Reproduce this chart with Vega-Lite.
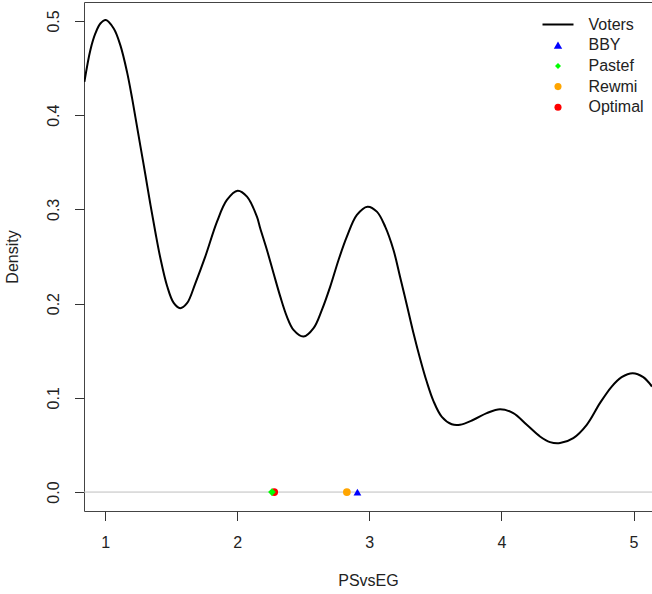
{
  "$schema": "https://vega.github.io/schema/vega-lite/v6.json",
  "width": 568,
  "height": 509,
  "autosize": {"type": "none"},
  "padding": {"left": 84, "top": 2, "right": 0, "bottom": 83},
  "background": "white",
  "config": {
    "view": {"stroke": "#444444", "strokeWidth": 1},
    "font": "Liberation Sans",
    "axis": {
      "grid": false,
      "domain": false,
      "tickColor": "#333333",
      "tickSize": 9.5,
      "labelFontSize": 16,
      "labelColor": "#222222",
      "titleFontSize": 16,
      "titleFontWeight": "normal",
      "titleColor": "#222222"
    },
    "legend": {
      "title": null,
      "orient": "none",
      "legendX": 451,
      "legendY": 14.5,
      "padding": 0,
      "symbolSize": 64,
      "symbolOffset": 15,
      "labelOffset": 22.5,
      "labelFontSize": 16,
      "labelColor": "#222222",
      "rowPadding": 4.7
    }
  },
  "datasets": {
    "density": [
      {"x": 0.843, "density": 0.4354, "series": "Voters"},
      {"x": 0.888, "density": 0.469, "series": "Voters"},
      {"x": 0.926, "density": 0.4867, "series": "Voters"},
      {"x": 0.964, "density": 0.4973, "series": "Voters"},
      {"x": 1.005, "density": 0.501, "series": "Voters"},
      {"x": 1.065, "density": 0.492, "series": "Voters"},
      {"x": 1.115, "density": 0.4743, "series": "Voters"},
      {"x": 1.166, "density": 0.4457, "series": "Voters"},
      {"x": 1.204, "density": 0.4181, "series": "Voters"},
      {"x": 1.229, "density": 0.398, "series": "Voters"},
      {"x": 1.267, "density": 0.3672, "series": "Voters"},
      {"x": 1.305, "density": 0.3365, "series": "Voters"},
      {"x": 1.342, "density": 0.3057, "series": "Voters"},
      {"x": 1.38, "density": 0.276, "series": "Voters"},
      {"x": 1.418, "density": 0.2484, "series": "Voters"},
      {"x": 1.469, "density": 0.2187, "series": "Voters"},
      {"x": 1.519, "density": 0.2007, "series": "Voters"},
      {"x": 1.568, "density": 0.1951, "series": "Voters"},
      {"x": 1.62, "density": 0.2004, "series": "Voters"},
      {"x": 1.683, "density": 0.2216, "series": "Voters"},
      {"x": 1.758, "density": 0.2498, "series": "Voters"},
      {"x": 1.847, "density": 0.287, "series": "Voters"},
      {"x": 1.922, "density": 0.31, "series": "Voters"},
      {"x": 2.003, "density": 0.3198, "series": "Voters"},
      {"x": 2.074, "density": 0.3135, "series": "Voters"},
      {"x": 2.149, "density": 0.2923, "series": "Voters"},
      {"x": 2.174, "density": 0.28, "series": "Voters"},
      {"x": 2.225, "density": 0.2569, "series": "Voters"},
      {"x": 2.275, "density": 0.2322, "series": "Voters"},
      {"x": 2.326, "density": 0.2074, "series": "Voters"},
      {"x": 2.376, "density": 0.1862, "series": "Voters"},
      {"x": 2.426, "density": 0.1721, "series": "Voters"},
      {"x": 2.502, "density": 0.165, "series": "Voters"},
      {"x": 2.578, "density": 0.1739, "series": "Voters"},
      {"x": 2.641, "density": 0.1933, "series": "Voters"},
      {"x": 2.704, "density": 0.218, "series": "Voters"},
      {"x": 2.767, "density": 0.2463, "series": "Voters"},
      {"x": 2.83, "density": 0.271, "series": "Voters"},
      {"x": 2.906, "density": 0.2941, "series": "Voters"},
      {"x": 2.986, "density": 0.3029, "series": "Voters"},
      {"x": 3.057, "density": 0.2976, "series": "Voters"},
      {"x": 3.12, "density": 0.2817, "series": "Voters"},
      {"x": 3.183, "density": 0.2569, "series": "Voters"},
      {"x": 3.233, "density": 0.2283, "series": "Voters"},
      {"x": 3.284, "density": 0.1986, "series": "Voters"},
      {"x": 3.334, "density": 0.1689, "series": "Voters"},
      {"x": 3.385, "density": 0.1413, "series": "Voters"},
      {"x": 3.435, "density": 0.117, "series": "Voters"},
      {"x": 3.485, "density": 0.0968, "series": "Voters"},
      {"x": 3.549, "density": 0.0798, "series": "Voters"},
      {"x": 3.624, "density": 0.0719, "series": "Voters"},
      {"x": 3.687, "density": 0.0714, "series": "Voters"},
      {"x": 3.788, "density": 0.0767, "series": "Voters"},
      {"x": 3.889, "density": 0.0838, "series": "Voters"},
      {"x": 3.99, "density": 0.088, "series": "Voters"},
      {"x": 4.09, "density": 0.0838, "series": "Voters"},
      {"x": 4.192, "density": 0.0714, "series": "Voters"},
      {"x": 4.292, "density": 0.059, "series": "Voters"},
      {"x": 4.368, "density": 0.053, "series": "Voters"},
      {"x": 4.444, "density": 0.052, "series": "Voters"},
      {"x": 4.544, "density": 0.0573, "series": "Voters"},
      {"x": 4.646, "density": 0.0714, "series": "Voters"},
      {"x": 4.746, "density": 0.0944, "series": "Voters"},
      {"x": 4.835, "density": 0.112, "series": "Voters"},
      {"x": 4.91, "density": 0.122, "series": "Voters"},
      {"x": 4.994, "density": 0.1262, "series": "Voters"},
      {"x": 5.074, "density": 0.122, "series": "Voters"},
      {"x": 5.14, "density": 0.112, "series": "Voters"}
    ],
    "parties": [
      {"party": "Optimal", "position": 2.28, "y": 0},
      {"party": "Rewmi", "position": 2.83, "y": 0},
      {"party": "BBY", "position": 2.91, "y": 0},
      {"party": "Pastef", "position": 2.263, "y": 0}
    ],
    "baseline": [{"h": 0}]
  },
  "layer": [
    {
      "data": {"name": "baseline"},
      "mark": {"type": "rule", "color": "#bebebe", "strokeWidth": 1},
      "encoding": {
        "y": {"field": "h", "type": "quantitative"}
      }
    },
    {
      "data": {"name": "density"},
      "mark": {"type": "line", "color": "black", "strokeWidth": 2, "interpolate": "catmull-rom", "clip": true},
      "encoding": {
        "x": {
          "field": "x", "type": "quantitative", "title": "PSvsEG",
          "scale": {"domain": [0.84, 5.14], "nice": false, "zero": false},
          "axis": {"values": [1, 2, 3, 4, 5], "format": "d", "labelPadding": 14, "titlePadding": 22}
        },
        "y": {
          "field": "density", "type": "quantitative", "title": "Density",
          "scale": {"domain": [-0.0201, 0.5201], "nice": false, "zero": false},
          "axis": {"values": [0, 0.1, 0.2, 0.3, 0.4, 0.5], "format": ".1f", "labelAngle": -90, "labelAlign": "center", "labelBaseline": "bottom", "labelPadding": 13, "titlePadding": 25.5}
        },
        "color": {
          "field": "series", "type": "nominal",
          "scale": {"domain": ["Voters", "BBY", "Pastef", "Rewmi", "Optimal"], "range": ["#000000", "#0000ff", "#00ff00", "#ffa500", "#ff0000"]},
          "legend": {
            "encode": {
              "symbols": {
                "update": {
                  "size": {"signal": "datum.value === 'Voters' ? 961 : datum.value === 'Pastef' ? 36 : datum.value === 'BBY' ? 70 : 50"},
                  "stroke": {"scale": "color", "field": "value"},
                  "strokeWidth": {"signal": "datum.value === 'Voters' ? 2 : 0"},
                  "fill": {"scale": "color", "field": "value"},
                  "opacity": {"value": 1}
                }
              }
            }
          }
        }
      }
    },
    {
      "data": {"name": "parties"},
      "mark": {"type": "point", "filled": true, "opacity": 1, "size": 60},
      "encoding": {
        "x": {"field": "position", "type": "quantitative"},
        "y": {"field": "y", "type": "quantitative"},
        "color": {
          "field": "party", "type": "nominal",
          "scale": {"domain": ["Voters", "BBY", "Pastef", "Rewmi", "Optimal"], "range": ["#000000", "#0000ff", "#00ff00", "#ffa500", "#ff0000"]},
          "legend": {
            "encode": {
              "symbols": {
                "update": {
                  "size": {"signal": "datum.value === 'Voters' ? 961 : datum.value === 'Pastef' ? 36 : datum.value === 'BBY' ? 70 : 50"},
                  "stroke": {"scale": "color", "field": "value"},
                  "strokeWidth": {"signal": "datum.value === 'Voters' ? 2 : 0"},
                  "fill": {"scale": "color", "field": "value"},
                  "opacity": {"value": 1}
                }
              }
            }
          }
        },
        "shape": {
          "field": "party", "type": "nominal",
          "scale": {"domain": ["Voters", "BBY", "Pastef", "Rewmi", "Optimal"], "range": ["stroke", "triangle-up", "diamond", "circle", "circle"]},
          "legend": {
            "encode": {
              "symbols": {
                "update": {
                  "size": {"signal": "datum.value === 'Voters' ? 961 : datum.value === 'Pastef' ? 36 : datum.value === 'BBY' ? 70 : 50"},
                  "stroke": {"scale": "color", "field": "value"},
                  "strokeWidth": {"signal": "datum.value === 'Voters' ? 2 : 0"},
                  "fill": {"scale": "color", "field": "value"},
                  "opacity": {"value": 1}
                }
              }
            }
          }
        }
      }
    }
  ]
}
